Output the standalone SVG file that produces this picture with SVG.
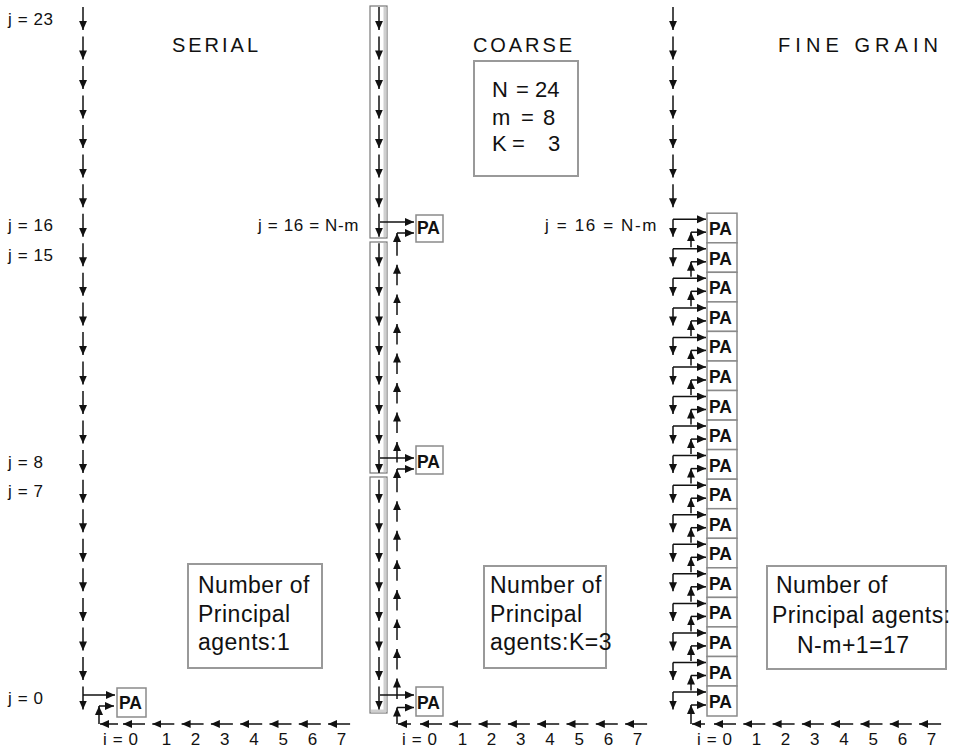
<svg xmlns="http://www.w3.org/2000/svg" width="956" height="748" viewBox="0 0 956 748">
<defs>
<marker id="ah" markerUnits="userSpaceOnUse" markerWidth="10" markerHeight="9" refX="9" refY="4" orient="auto">
<path d="M0,0 L9,4 L0,8 z" fill="#111"/>
</marker>
<g id="dn"><line x1="0" y1="-11.5" x2="0" y2="11.5" stroke="#111" stroke-width="1.5" marker-end="url(#ah)"/></g>
<g id="up"><line x1="0" y1="1" x2="0" y2="-19.5" stroke="#111" stroke-width="1.5" marker-end="url(#ah)"/></g>
<g id="lf"><line x1="22" y1="0" x2="0" y2="0" stroke="#111" stroke-width="1.5" marker-end="url(#ah)"/></g>
<g id="fg" stroke="#111" stroke-width="1.5"><line x1="0" y1="-6" x2="33" y2="-6" marker-end="url(#ah)"/><line x1="0" y1="-6" x2="0" y2="11.5" marker-end="url(#ah)"/><line x1="18" y1="22" x2="18" y2="7" marker-end="url(#ah)"/><line x1="18" y1="7" x2="33" y2="7" marker-end="url(#ah)"/></g>
</defs>
<style>
text{font-family:"Liberation Sans",Arial,sans-serif;fill:#111}
.lab{font-size:17px;letter-spacing:0.6px}
.ttl{font-size:20px}
.pa{font-size:17.5px;font-weight:bold}
.big{font-size:23px;letter-spacing:0.5px}
.par{font-size:22px}
.box{fill:#fff;stroke:#8a8a8a;stroke-width:1.5}
.tb{fill:#fff;stroke:#999;stroke-width:2}
.col{fill:none;stroke:#777;stroke-width:1.2}
.sh{fill:none;stroke:#cfcfcf;stroke-width:3}
#conn line{stroke:#111;stroke-width:1.5;fill:none;marker-end:url(#ah)}
</style>
<rect width="956" height="748" fill="#fff"/>

<g id="labels">
<text class="lab" x="8" y="25">j = 23</text>
<text class="lab" x="8" y="231">j = 16</text>
<text class="lab" x="8" y="261">j = 15</text>
<text class="lab" x="8" y="468">j = 8</text>
<text class="lab" x="8" y="497">j = 7</text>
<text class="lab" x="8" y="704">j = 0</text>
<text class="lab" x="258" y="231" textLength="101" lengthAdjust="spacing">j = 16 = N-m</text>
<text class="lab" x="545" y="231" textLength="112" lengthAdjust="spacing">j = 16 = N-m</text>
<text class="ttl" x="172" y="52" textLength="86" lengthAdjust="spacing">SERIAL</text>
<text class="ttl" x="473" y="52" textLength="99" lengthAdjust="spacing">COARSE</text>
<text class="ttl" x="778" y="52" textLength="160" lengthAdjust="spacing">FINE GRAIN</text>
</g>

<g id="coarse-blocks">
<rect class="col" x="370" y="6" width="17" height="232"/>
<line class="sh" x1="385" y1="7" x2="385" y2="237"/>
<rect class="col" x="370" y="242" width="17" height="231"/>
<line class="sh" x1="385" y1="243" x2="385" y2="472"/>
<rect class="col" x="370" y="477" width="17" height="236"/>
<line class="sh" x1="385" y1="478" x2="385" y2="712"/>
<line class="sh" x1="371" y1="711" x2="386" y2="711"/>
</g>

<g id="params">
<rect class="tb" x="474" y="61" width="104" height="115"/>
<text class="par" y="97"><tspan x="492">N</tspan><tspan x="516">=</tspan><tspan x="535">24</tspan></text>
<text class="par" y="125"><tspan x="492">m</tspan><tspan x="521">=</tspan><tspan x="543">8</tspan></text>
<text class="par" y="151"><tspan x="492">K</tspan><tspan x="512">=</tspan><tspan x="548">3</tspan></text>
</g>

<g id="note-serial">
<rect class="tb" x="188" y="564" width="134" height="104"/>
<text class="big" x="198" y="593">Number of</text>
<text class="big" x="198" y="622">Principal</text>
<text class="big" x="198" y="650">agents:1</text>
</g>
<g id="note-coarse">
<rect class="tb" x="484" y="566" width="122" height="102"/>
<text class="big" x="490" y="593">Number of</text>
<text class="big" x="490" y="622">Principal</text>
<text class="big" x="490" y="650">agents:K=3</text>
</g>
<g id="note-fine">
<rect class="tb" x="767" y="566" width="179" height="103"/>
<text class="big" x="776" y="593">Number of</text>
<text class="big" x="772" y="623">Principal agents:</text>
<text class="big" x="797" y="653">N-m+1=17</text>
</g>

<g id="pa-serial"><rect class="box" x="117" y="688" width="29" height="29"/><text class="pa" x="119" y="709">PA</text></g>
<g id="pa-coarse-16"><rect class="box" x="416" y="215" width="27" height="27"/><text class="pa" x="417" y="234">PA</text></g>
<g id="pa-coarse-8"><rect class="box" x="416" y="446" width="27" height="28"/><text class="pa" x="417" y="468">PA</text></g>
<g id="pa-coarse-0"><rect class="box" x="416" y="687" width="27" height="29"/><text class="pa" x="417" y="709">PA</text></g>

<g id="pa-fine">
<g id="pa-f16"><rect class="box" x="707" y="213.2" width="30" height="29.6"/><text class="pa" x="709" y="235.2">PA</text></g>
<g id="pa-f15"><rect class="box" x="707" y="242.8" width="30" height="29.5"/><text class="pa" x="709" y="264.8">PA</text></g>
<g id="pa-f14"><rect class="box" x="707" y="272.3" width="30" height="29.6"/><text class="pa" x="709" y="294.3">PA</text></g>
<g id="pa-f13"><rect class="box" x="707" y="301.9" width="30" height="29.5"/><text class="pa" x="709" y="323.9">PA</text></g>
<g id="pa-f12"><rect class="box" x="707" y="331.4" width="30" height="29.6"/><text class="pa" x="709" y="353.4">PA</text></g>
<g id="pa-f11"><rect class="box" x="707" y="361" width="30" height="29.5"/><text class="pa" x="709" y="383">PA</text></g>
<g id="pa-f10"><rect class="box" x="707" y="390.5" width="30" height="29.6"/><text class="pa" x="709" y="412.5">PA</text></g>
<g id="pa-f9"><rect class="box" x="707" y="420.1" width="30" height="29.5"/><text class="pa" x="709" y="442.1">PA</text></g>
<g id="pa-f8"><rect class="box" x="707" y="449.6" width="30" height="29.6"/><text class="pa" x="709" y="471.6">PA</text></g>
<g id="pa-f7"><rect class="box" x="707" y="479.2" width="30" height="29.5"/><text class="pa" x="709" y="501.2">PA</text></g>
<g id="pa-f6"><rect class="box" x="707" y="508.7" width="30" height="29.6"/><text class="pa" x="709" y="530.7">PA</text></g>
<g id="pa-f5"><rect class="box" x="707" y="538.3" width="30" height="29.5"/><text class="pa" x="709" y="560.3">PA</text></g>
<g id="pa-f4"><rect class="box" x="707" y="567.8" width="30" height="29.6"/><text class="pa" x="709" y="589.8">PA</text></g>
<g id="pa-f3"><rect class="box" x="707" y="597.4" width="30" height="29.5"/><text class="pa" x="709" y="619.4">PA</text></g>
<g id="pa-f2"><rect class="box" x="707" y="626.9" width="30" height="29.6"/><text class="pa" x="709" y="648.9">PA</text></g>
<g id="pa-f1"><rect class="box" x="707" y="656.5" width="30" height="29.5"/><text class="pa" x="709" y="678.5">PA</text></g>
<g id="pa-f0"><rect class="box" x="707" y="686" width="30" height="30"/><text class="pa" x="709" y="708">PA</text></g>
</g>

<g id="axes">
<text class="lab" x="103" y="745">i = 0</text>
<text class="lab" x="402" y="745">i = 0</text>
<text class="lab" x="697" y="745">i = 0</text>
<g text-anchor="middle">
<text class="lab" x="166.7" y="745">1</text><text class="lab" x="195.9" y="745">2</text><text class="lab" x="225.1" y="745">3</text><text class="lab" x="254.3" y="745">4</text><text class="lab" x="283.5" y="745">5</text><text class="lab" x="312.7" y="745">6</text><text class="lab" x="341.9" y="745">7</text>
<text class="lab" x="462.7" y="745">1</text><text class="lab" x="491.9" y="745">2</text><text class="lab" x="521.1" y="745">3</text><text class="lab" x="550.3" y="745">4</text><text class="lab" x="579.5" y="745">5</text><text class="lab" x="608.7" y="745">6</text><text class="lab" x="637.9" y="745">7</text>
<text class="lab" x="756.7" y="745">1</text><text class="lab" x="785.9" y="745">2</text><text class="lab" x="815.1" y="745">3</text><text class="lab" x="844.3" y="745">4</text><text class="lab" x="873.5" y="745">5</text><text class="lab" x="902.7" y="745">6</text><text class="lab" x="931.9" y="745">7</text>
</g>
</g>

<g id="conn">
<use href="#dn" x="83" y="18.4"/><use href="#dn" x="83" y="47.9"/><use href="#dn" x="83" y="77.5"/><use href="#dn" x="83" y="107"/><use href="#dn" x="83" y="136.6"/><use href="#dn" x="83" y="166.1"/><use href="#dn" x="83" y="195.7"/><use href="#dn" x="83" y="225.2"/>
<use href="#dn" x="83" y="254.8"/><use href="#dn" x="83" y="284.3"/><use href="#dn" x="83" y="313.9"/><use href="#dn" x="83" y="343.4"/><use href="#dn" x="83" y="373"/><use href="#dn" x="83" y="402.5"/><use href="#dn" x="83" y="432.1"/><use href="#dn" x="83" y="461.6"/>
<use href="#dn" x="83" y="491.2"/><use href="#dn" x="83" y="520.7"/><use href="#dn" x="83" y="550.3"/><use href="#dn" x="83" y="579.8"/><use href="#dn" x="83" y="609.4"/><use href="#dn" x="83" y="638.9"/><use href="#dn" x="83" y="668.5"/><use href="#dn" x="83" y="698"/>
<line x1="83" y1="695" x2="115" y2="695"/>
<line x1="118" y1="724" x2="100" y2="724"/>
<line x1="99" y1="724" x2="99" y2="706"/>
<line x1="99" y1="706" x2="114" y2="706"/>
<use href="#lf" x="123" y="724"/><use href="#lf" x="152.3" y="724"/><use href="#lf" x="181.6" y="724"/><use href="#lf" x="210.9" y="724"/><use href="#lf" x="240.2" y="724"/><use href="#lf" x="269.5" y="724"/><use href="#lf" x="298.8" y="724"/><use href="#lf" x="328.1" y="724"/>

<use href="#dn" x="379" y="18.4"/><use href="#dn" x="379" y="47.9"/><use href="#dn" x="379" y="77.5"/><use href="#dn" x="379" y="107"/><use href="#dn" x="379" y="136.6"/><use href="#dn" x="379" y="166.1"/><use href="#dn" x="379" y="195.7"/><use href="#dn" x="379" y="225.2"/>
<use href="#dn" x="379" y="254.8"/><use href="#dn" x="379" y="284.3"/><use href="#dn" x="379" y="313.9"/><use href="#dn" x="379" y="343.4"/><use href="#dn" x="379" y="373"/><use href="#dn" x="379" y="402.5"/><use href="#dn" x="379" y="432.1"/><use href="#dn" x="379" y="461.6"/>
<use href="#dn" x="379" y="491.2"/><use href="#dn" x="379" y="520.7"/><use href="#dn" x="379" y="550.3"/><use href="#dn" x="379" y="579.8"/><use href="#dn" x="379" y="609.4"/><use href="#dn" x="379" y="638.9"/><use href="#dn" x="379" y="668.5"/><use href="#dn" x="379" y="698"/>
<use href="#up" x="397" y="698"/><use href="#up" x="397" y="668.5"/><use href="#up" x="397" y="638.9"/><use href="#up" x="397" y="609.4"/><use href="#up" x="397" y="579.8"/><use href="#up" x="397" y="550.3"/><use href="#up" x="397" y="520.7"/>
<use href="#up" x="397" y="461.6"/><use href="#up" x="397" y="432.1"/><use href="#up" x="397" y="402.5"/><use href="#up" x="397" y="373"/><use href="#up" x="397" y="343.4"/><use href="#up" x="397" y="313.9"/><use href="#up" x="397" y="284.3"/>
<line x1="380" y1="222" x2="414" y2="222"/>
<line x1="397" y1="255.8" x2="397" y2="233"/>
<line x1="397" y1="233" x2="414" y2="233"/>
<line x1="380" y1="458" x2="414" y2="458"/>
<line x1="397" y1="492.2" x2="397" y2="469"/>
<line x1="397" y1="469" x2="414" y2="469"/>
<line x1="380" y1="695" x2="414" y2="695"/>
<line x1="411" y1="724" x2="398" y2="724"/>
<line x1="397" y1="724" x2="397" y2="707.5"/>
<line x1="397" y1="707.5" x2="414" y2="707.5"/>
<use href="#lf" x="420" y="724"/><use href="#lf" x="449.3" y="724"/><use href="#lf" x="478.6" y="724"/><use href="#lf" x="507.9" y="724"/><use href="#lf" x="537.2" y="724"/><use href="#lf" x="566.5" y="724"/><use href="#lf" x="595.8" y="724"/><use href="#lf" x="625.1" y="724"/>

<use href="#dn" x="673" y="18.4"/><use href="#dn" x="673" y="47.9"/><use href="#dn" x="673" y="77.5"/><use href="#dn" x="673" y="107"/><use href="#dn" x="673" y="136.6"/><use href="#dn" x="673" y="166.1"/><use href="#dn" x="673" y="195.7"/>
<use href="#fg" x="673" y="225.2"/><use href="#fg" x="673" y="254.8"/><use href="#fg" x="673" y="284.3"/><use href="#fg" x="673" y="313.9"/><use href="#fg" x="673" y="343.4"/><use href="#fg" x="673" y="373"/><use href="#fg" x="673" y="402.5"/><use href="#fg" x="673" y="432.1"/>
<use href="#fg" x="673" y="461.6"/><use href="#fg" x="673" y="491.2"/><use href="#fg" x="673" y="520.7"/><use href="#fg" x="673" y="550.3"/><use href="#fg" x="673" y="579.8"/><use href="#fg" x="673" y="609.4"/><use href="#fg" x="673" y="638.9"/><use href="#fg" x="673" y="668.5"/>
<line x1="673" y1="692" x2="706" y2="692"/>
<line x1="673" y1="692" x2="673" y2="709.5"/>
<line x1="705" y1="724" x2="692" y2="724"/>
<line x1="691" y1="724" x2="691" y2="705"/>
<line x1="691" y1="705" x2="706" y2="705"/>
<use href="#lf" x="714" y="724"/><use href="#lf" x="743.3" y="724"/><use href="#lf" x="772.6" y="724"/><use href="#lf" x="801.9" y="724"/><use href="#lf" x="831.2" y="724"/><use href="#lf" x="860.5" y="724"/><use href="#lf" x="889.8" y="724"/><use href="#lf" x="919.1" y="724"/>
</g>
</svg>
